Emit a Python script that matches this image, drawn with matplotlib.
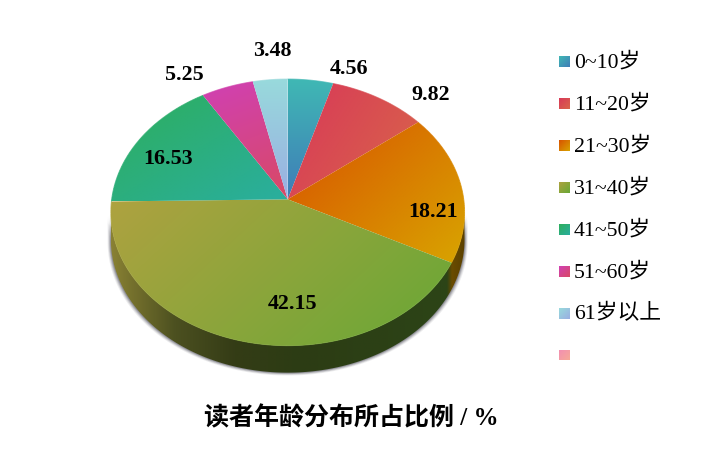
#!/usr/bin/env python3
"""Reader age distribution, drawn as a tilted pie with gradient wedges."""

import numpy as np
import matplotlib
matplotlib.use('Agg')
import matplotlib.pyplot as plt
from matplotlib.collections import LineCollection
from matplotlib.colors import to_rgb
from matplotlib.patches import Polygon

# data
AGE_LABELS = ['0~10岁', '11~20岁', '21~30岁', '31~40岁', '41~50岁', '51~60岁', '61岁以上', '']
SHARES = [4.56, 9.82, 18.21, 42.15, 16.53, 5.25, 3.48]
SHARE_TEXT = ['4.56', '9.82', '18.21', '42.15', '16.53', '5.25', '3.48']

# start / end colours of each wedge gradient, and gradient direction in degrees
GRADIENTS = [
    ('#40b8b4', '#3f7cb8', 90),
    ('#d83858', '#d8664a', 30),
    ('#d85200', '#d8a400', 40),
    ('#aea240', '#68a836', 25),
    ('#2eae5c', '#2aae9f', 45),
    ('#d040b4', '#d84a64', 75),
    ('#98dadc', '#9aaee2', 90),
    ('#f28eb4', '#f6aa96', 30),
]
LABEL_POS = [(349, 69), (431, 95), (433, 212), (292, 304), (168.5, 159.5), (184, 75.5), (272, 51)]

# pie geometry, in image pixels
CX, CY = 287.7, 199.3
A, B, K = 176.0, 132.0, 0.098
DEPTH = 27

SERIF = ['Liberation Serif', 'Noto Sans CJK SC']
plt.rcParams['font.family'] = SERIF


def project(theta):
    """Clockwise angle from 12 o'clock to pixel position on the tilted disc."""
    u, v = np.sin(theta), np.cos(theta)
    d = 1 + K * v
    return CX + A * u / d, CY - B * v / d


def gradient_t(px, py, box, angle):
    """Position 0..1 along the gradient for points inside box."""
    x0, y0, x1, y1 = box
    r = np.radians(angle)
    ext = abs(np.cos(r)) + abs(np.sin(r))
    lo = min(0, np.cos(r)) + min(0, np.sin(r))
    return (((px - x0) / (x1 - x0)) * np.cos(r) + ((py - y0) / (y1 - y0)) * np.sin(r) - lo) / ext


def gradient_fill(ax, pts, c0, c1, angle, zorder=2):
    """Fill polygon pts with a linear gradient clipped to the polygon."""
    x0, y0 = pts.min(axis=0)
    x1, y1 = pts.max(axis=0)
    box = (x0, y0, x1, y1)
    xs, ys = np.meshgrid(np.linspace(x0, x1, 64), np.linspace(y0, y1, 64))
    t = gradient_t(xs, ys, box, angle)
    c0, c1 = np.array(to_rgb(c0)), np.array(to_rgb(c1))
    img = c0 + t[..., None] * (c1 - c0)
    im = ax.imshow(img, extent=(x0, x1, y1, y0), zorder=zorder, aspect='auto',
                   interpolation='bilinear')
    clip = Polygon(pts, closed=True, transform=ax.transData, fc='none', ec='none')
    ax.add_patch(clip)
    im.set_clip_path(clip)
    return box, c0, c1


fig = plt.figure(figsize=(7.16, 4.58), dpi=100)
ax = fig.add_axes([0, 0, 1, 1])

# wedge boundaries
edges = np.radians(np.cumsum([0] + SHARES) * 3.6)
edges[-1] = 2 * np.pi
th_ext = np.arccos(-K)

# side wall
th = np.linspace(th_ext, 2 * np.pi - th_ext, 200)
x, y = project(th)
wall = np.column_stack([np.r_[x, x[::-1]], np.r_[y, y[::-1] + DEPTH]])

# soft shadow around the wall
for i, a in zip((3.2, 2.4, 1.6, 0.8), (0.10, 0.16, 0.24, 0.34)):
    sx = CX + (wall[:, 0] - CX) * (1 + i / 177)
    ax.add_patch(Polygon(np.column_stack([sx, wall[:, 1] + i * 0.9]), closed=True,
                         fc='#50505c', ec='none', alpha=a, zorder=1))

# wall colours run left to right along the rim
xs = np.linspace(x.min(), x.max(), 400)
stops_x = [110, 135, 175, 235, 300, 440, 447, 452, 465]
stops_r = [(0x8a, 0x82, 0x34), (0x72, 0x6e, 0x2c), (0x4c, 0x50, 0x20), (0x34, 0x3c, 0x16),
           (0x2c, 0x3c, 0x14), (0x2c, 0x44, 0x17), (0x2c, 0x44, 0x17), (0x6a, 0x4c, 0x00), (0x5a, 0x40, 0x00)]
stops_r = np.array(stops_r) / 255
row = np.column_stack([np.interp(xs, stops_x, stops_r[:, c]) for c in range(3)])
im = ax.imshow(row[None, :, :], extent=(xs[0], xs[-1], wall[:, 1].max(), wall[:, 1].min()),
               aspect='auto', zorder=2, interpolation='bilinear')
clip = Polygon(wall, closed=True, transform=ax.transData, fc='none', ec='none')
ax.add_patch(clip)
im.set_clip_path(clip)

# wedges
for i in range(len(SHARES)):
    th = np.linspace(edges[i], edges[i + 1], 90)
    x, y = project(th)
    pts = np.column_stack([np.r_[CX, x], np.r_[CY, y]])
    c0, c1, ang = GRADIENTS[i]
    box, rgb0, rgb1 = gradient_fill(ax, pts, c0, c1, ang, zorder=3)
    # thin rim in the gradient colours, softens the clipped edge
    segs = np.stack([np.column_stack([x[:-1], y[:-1]]), np.column_stack([x[1:], y[1:]])], axis=1)
    t = gradient_t((x[:-1] + x[1:]) / 2, (y[:-1] + y[1:]) / 2, box, ang)
    ax.add_collection(LineCollection(segs, colors=rgb0 + t[:, None] * (rgb1 - rgb0),
                                     linewidths=0.7, alpha=0.8, zorder=4))
    ax.text(*LABEL_POS[i], SHARE_TEXT[i], ha='center', va='center', fontsize=15.8,
            fontweight='bold', color='black', zorder=5)

# legend, one swatch per age band
for i, lab in enumerate(AGE_LABELS):
    yc = 61.7 + i * 41.9
    sw = np.array([[559, yc - 5.5], [570, yc - 5.5], [570, yc + 5.5], [559, yc + 5.5]])
    c0, c1, _ = GRADIENTS[i]
    gradient_fill(ax, sw, c0, c1, 45, zorder=3)
    if lab:
        ax.text(574, yc + 1, lab, ha='left', va='center', fontsize=15.7, color='black')

ax.text(351, 418, '读者年龄分布所占比例 / %', ha='center', va='center', fontsize=18,
        fontweight='bold', color='black')

ax.set_xlim(0, 716)
ax.set_ylim(458, 0)
ax.axis('off')
fig.savefig('out.png', dpi=100, facecolor='white')
